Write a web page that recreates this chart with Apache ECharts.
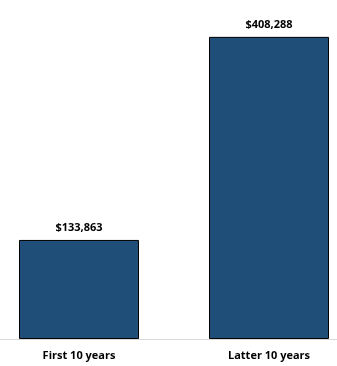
<!DOCTYPE html>
<html><head><meta charset="utf-8">
<script src="https://cdn.jsdelivr.net/npm/echarts@6/dist/echarts.min.js"></script>
<style>html,body{margin:0;padding:0;background:#fff}#c{width:337px;height:366px}</style>
</head><body><div id="c"></div>
<script>
var categories = ["First 10 years", "Latter 10 years"];
var values = [133863, 408288];
var chart = echarts.init(document.getElementById('c'), null, {renderer:'canvas'});
chart.setOption({
  animation:false,
  grid:{left:-16, right:-27, top:6, bottom:27, containLabel:false, outerBoundsMode:'none'},
  xAxis:{type:'category', data:categories,
    axisLine:{lineStyle:{color:'#d9d9d9', width:1}},
    axisTick:{show:false},
    axisLabel:{color:'#000', fontFamily:'Open Sans', fontWeight:'bold', fontSize:11, margin:11}},
  yAxis:{type:'value', min:0, max:450000, show:false, splitLine:{show:false}},
  series:[{type:'bar', data:values, barWidth:120,
    itemStyle:{color:'#1f4e79', borderColor:'#000', borderWidth:1},
    label:{show:true, position:'top', distance:7, color:'#000', fontFamily:'Open Sans', fontWeight:'bold', fontSize:11,
      formatter:function(p){return '$'+p.value.toLocaleString('en-US');}}}]
});
</script></body></html>
